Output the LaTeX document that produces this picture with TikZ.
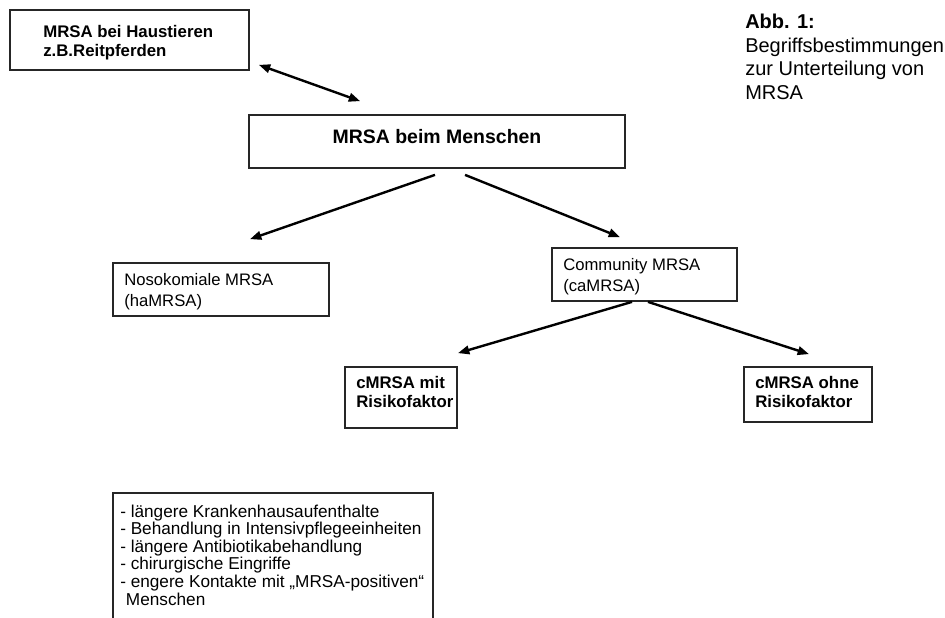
\documentclass[tikz,border=0pt]{standalone}
\usepackage{fontspec}
\setmainfont{Liberation Sans}
\usetikzlibrary{arrows.meta}

\tikzset{
  box/.style={draw=black!85, line width=1.3pt, rectangle, inner sep=0pt, fill=white},
  % multi-line texts are placed by the baseline of their last line
  lbl/.style={anchor=base west, inner sep=0pt, align=left},
  tip/.tip={Triangle[length=8.5pt,width=6.4pt]},
  conn/.style={line width=1.8pt, -tip},
  boldtxt/.style={font=\fontsize{12.6pt}{14.25pt}\selectfont\bfseries},
  plaintxt/.style={font=\fontsize{12.5pt}{15.75pt}\selectfont},
}

\begin{document}
\begin{tikzpicture}[x=0.75pt, y=-0.75pt]
  % page frame (pixel grid, y downwards)
  \clip (0,0) rectangle (945,617);
  \fill[white] (0,0) rectangle (945,617);

  % boxes
  \node[box, minimum width=239*0.75pt, minimum height=60*0.75pt] (haus)   at (129.5,40)  {};
  \node[box, minimum width=376*0.75pt, minimum height=53*0.75pt] (mensch) at (437,141.5)  {};
  \node[box, minimum width=216*0.75pt, minimum height=53*0.75pt] (noso)   at (221,289.5)  {};
  \node[box, minimum width=185*0.75pt, minimum height=53*0.75pt] (comm)   at (644.5,274.5){};
  \node[box, minimum width=112*0.75pt, minimum height=61*0.75pt] (mit)    at (401,397.5)  {};
  \node[box, minimum width=128*0.75pt, minimum height=55*0.75pt] (ohne)   at (808,394.5)  {};
  \node[box, minimum width=320*0.75pt, minimum height=160*0.75pt] (risk)  at (273,573)    {};

  % box texts
  \node[lbl, boldtxt] (hausT) at (43,57) {MRSA bei Haustieren\\z.B.Reitpferden};
  \node[anchor=base, inner sep=0pt, font=\fontsize{14.6pt}{17pt}\selectfont\bfseries]
       (menschT) at (437,143) {MRSA beim Menschen};
  \node[lbl, plaintxt] (nosoT) at (124,306) {Nosokomiale MRSA\\(haMRSA)};
  \node[lbl, plaintxt] (commT) at (563,291) {Community MRSA\\(caMRSA)};
  \node[lbl, boldtxt] (mitT)  at (356,407) {cMRSA mit\\Risikofaktor};
  \node[lbl, boldtxt] (ohneT) at (755,407) {cMRSA ohne\\Risikofaktor};
  \node[lbl, font=\fontsize{12.9pt}{13.2pt}\selectfont] (riskT) at (120,605)
    {- längere Krankenhausaufenthalte\\
     - Behandlung in Intensivpflegeeinheiten\\
     - längere Antibiotikabehandlung\\
     - chirurgische Eingriffe\\
     - engere Kontakte mit „MRSA-positiven“\\
     \hphantom{-}Menschen};

  % caption
  \node[lbl, font=\fontsize{15pt}{17.6pt}\selectfont] (caption) at (745,99)
    {\textbf{Abb. 1:}\\Begriffsbestimmungen\\zur Unterteilung von\\MRSA};

  % connectors
  \draw[conn, tip-tip]
    ([shift={(9,-6)}]haus.south east) -- ([shift={(112,-13)}]mensch.north west);
  \draw[conn] ([shift={(-2,6)}]mensch.south) -- ([shift={(29,-23)}]noso.north);
  \draw[conn] ([shift={(28,6)}]mensch.south) -- ([shift={(-24.5,-10)}]comm.north);
  \draw[conn] ([shift={(-12.5,0)}]comm.south) -- ([shift={(57,-13)}]mit.north);
  \draw[conn] ([shift={(3.5,0)}]comm.south) -- ([shift={(1,-12)}]ohne.north);
\end{tikzpicture}
\end{document}
